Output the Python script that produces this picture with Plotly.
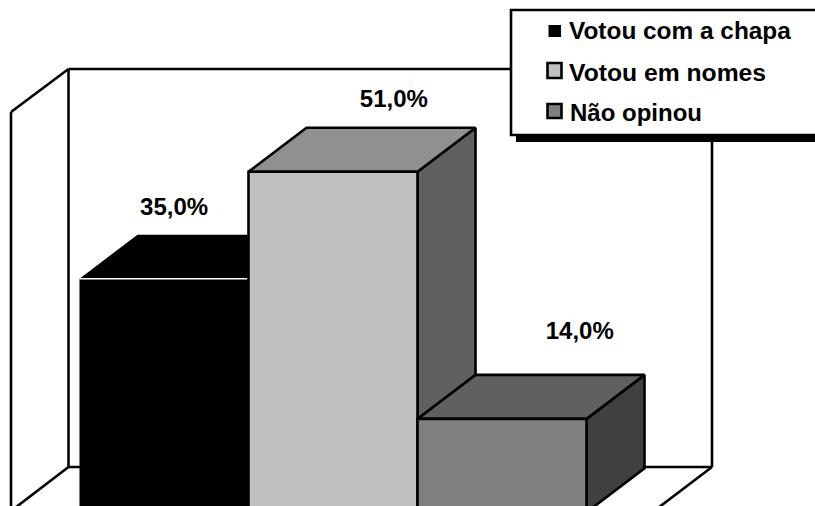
import plotly.graph_objects as go

# Data
categories = ["Votou com a chapa", "Votou em nomes", "Não opinou"]
values = [35.0, 51.0, 14.0]
labels = ["35,0%", "51,0%", "14,0%"]

# Styles
front_colors = ["#000000", "#C0C0C0", "#808080"]
top_colors = ["#000000", "#909090", "#606060"]
side_colors = ["#000000", "#606060", "#404040"]
W, H = 815, 506
PX_X = 169.0      # pixels per category
PX_Y = 6.676      # pixels per percent
X_LEFT = 79.5     # pixel of the first bar's left edge
Y_ZERO = 512.3    # pixel of value 0
DX = 58 / PX_X    # depth in x units
DY = 44 / PX_Y    # depth in percent units
label_dx = [0.06, 0.36, 0.46]
label_dy = [10.4, 10.6, 12.9]
LW = 2.6

x_range = [-0.5 - X_LEFT / PX_X, -0.5 + (W - X_LEFT) / PX_X]
y_range = [(Y_ZERO - H) / PX_Y, Y_ZERO / PX_Y]


def poly(xs, ys, fill, line_color="#000000", width=LW):
    return go.Scatter(
        x=xs, y=ys, mode="lines", fill="toself", fillcolor=fill,
        line=dict(color=line_color, width=width), hoverinfo="skip", showlegend=False,
    )


fig = go.Figure()
for i, v in enumerate(values):
    x0, x1 = i - 0.5, i + 0.5
    w = 0 if i == 0 else LW
    # side
    fig.add_trace(poly([x1, x1 + DX, x1 + DX, x1, x1], [v, v + DY, DY, 0, v], side_colors[i], width=w))
    # top
    fig.add_trace(poly([x0, x0 + DX, x1 + DX, x1, x0], [v, v + DY, v + DY, v, v], top_colors[i], width=w))
    # front
    fig.add_trace(poly([x0, x1, x1, x0, x0], [0, 0, v, v, 0], front_colors[i], width=w))
    if i == 0:
        fig.add_trace(go.Scatter(x=[x0, x1], y=[v, v], mode="lines",
                                 line=dict(color="#FFFFFF", width=1.5),
                                 hoverinfo="skip", showlegend=False))

fig.add_trace(go.Scatter(
    x=[i + label_dx[i] for i in range(len(values))],
    y=[v + label_dy[i] for i, v in enumerate(values)],
    text=labels, mode="text", textposition="middle center",
    textfont=dict(family="Liberation Sans", size=24, color="#000000"),
    texttemplate="<b>%{text}</b>", hoverinfo="skip", showlegend=False,
))


def px(x):
    return x / W


def py(y):
    return 1 - y / H


shapes = []


def seg(x0, y0, x1, y1, layer="below", color="#000000", width=LW):
    shapes.append(dict(type="line", xref="paper", yref="paper", layer=layer,
                       x0=px(x0), y0=py(y0), x1=px(x1), y1=py(y1),
                       line=dict(color=color, width=width)))


def rect(x0, y0, x1, y1, fill, line=None, width=0):
    shapes.append(dict(type="rect", xref="paper", yref="paper", layer="above",
                       x0=px(x0), y0=py(y0), x1=px(x1), y1=py(y1), fillcolor=fill,
                       line=dict(color=line or fill, width=width)))


# Walls
seg(11, 511, 11, 112)
seg(11, 112, 68.5, 69)
seg(68.5, 69, 712, 69)
seg(712, 69, 712, 467)
seg(68.5, 69, 68.5, 467)
seg(68.5, 467, 712, 467)
seg(68.5, 467, 11, 511)
seg(712, 467, 654, 511)

# Legend
rect(516, 136, 830, 142, "#000000")
rect(511, 10, 830, 135, "#FFFFFF", "#000000", LW)
rect(548.5, 25, 561, 37, front_colors[0])
rect(547.5, 63, 561.5, 78, front_colors[1], "#000000", LW)
rect(547.5, 104, 561.5, 118, front_colors[2], "#000000", LW)

legend_x = [568, 568, 569]
legend_y = [31, 72, 112]
legend_size = [24.4, 24.7, 24]
annotations = [
    dict(xref="paper", yref="paper", x=px(legend_x[i]), y=py(legend_y[i]),
         text=f"<b>{c}</b>", showarrow=False, xanchor="left", yanchor="middle",
         xshift=-1, font=dict(family="Liberation Sans", size=legend_size[i], color="#000000"))
    for i, c in enumerate(categories)
]

fig.update_layout(
    width=W, height=H, margin=dict(l=0, r=0, t=0, b=0),
    paper_bgcolor="#FFFFFF", plot_bgcolor="#FFFFFF", showlegend=False,
    xaxis=dict(range=x_range, visible=False, domain=[0, 1]),
    yaxis=dict(range=y_range, visible=False, domain=[0, 1]),
    shapes=shapes, annotations=annotations,
)
fig.write_html("out.html", config={"displayModeBar": False},
               post_script="document.body.style.margin='0';")
